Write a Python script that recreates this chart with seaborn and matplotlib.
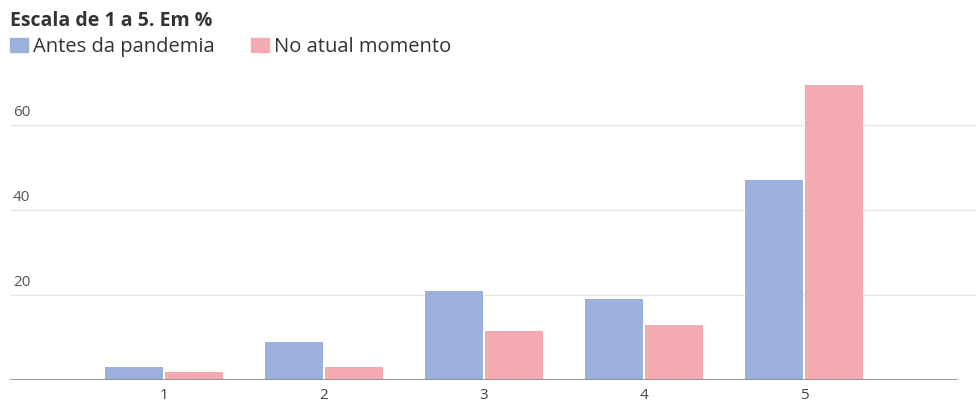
import matplotlib
matplotlib.use("Agg")
import matplotlib.pyplot as plt
import matplotlib.transforms as mtransforms
import seaborn as sns
import pandas as pd

categorias = ["1", "2", "3", "4", "5"]
antes = [3, 9, 21, 19, 47]
atual = [2, 3, 11.5, 13, 69.5]
series = ["Antes da pandemia", "No atual momento"]
yticks = [20, 40, 60]
titulo = "Escala de 1 a 5. Em %"

blue = "#9bb1dc"
pink = "#f4aab3"

df = pd.DataFrame({
    "escala": categorias * 2,
    "valor": antes + atual,
    "periodo": [series[0]] * len(categorias) + [series[1]] * len(categorias),
})

sns.set_theme(style="white")
plt.rcParams["font.family"] = ["Open Sans", "DejaVu Sans"]

fig = plt.figure(figsize=(9.76, 4.05), dpi=100)
ax = fig.add_axes([10 / 976, 25 / 405, 966 / 976, 310 / 405])

sns.barplot(data=df, x="escala", y="valor", hue="periodo", order=categorias,
            hue_order=series, palette=[blue, pink], saturation=1,
            width=0.75, gap=0.035, linewidth=0, ax=ax, legend=False)

ax.set_xlim((10 - 164) / 160, (976 - 164) / 160)
ax.set_ylim(0, 310 / 4.25)
ax.set_xlabel("")
ax.set_ylabel("")
for s in ax.spines.values():
    s.set_visible(False)

ax.set_yticks(yticks)
ax.set_yticklabels([])
ax.tick_params(axis="y", length=0)
ax.grid(axis="y", color="#e6e6e6", linewidth=1)
ax.set_axisbelow(True)
ax.axhline(0, xmin=0, xmax=(957 - 10) / 966, color="#8c8c8c", linewidth=1.2, zorder=3)

trans = mtransforms.offset_copy(ax.get_yaxis_transform(), fig=fig, x=3, y=5, units="dots")
for v in yticks:
    ax.text(0.0, v, str(v), transform=trans, ha="left", va="bottom",
            fontsize=11, color="#555555")

ax.tick_params(axis="x", length=0, pad=6, labelsize=11, labelcolor="#444444")

fig.text(10 / 976, 1 - 11 / 405, titulo, ha="left", va="top", fontsize=14,
         fontweight="bold", color="#333333")

handles = [plt.Rectangle((0, 0), 1, 1, color=blue), plt.Rectangle((0, 0), 1, 1, color=pink)]
fig.legend(handles, series, loc="upper left", bbox_to_anchor=(10 / 976, 1 - 37 / 405),
           ncol=2, frameon=False, fontsize=14.5, handlelength=0.9, handleheight=0.75,
           handletextpad=0.25, columnspacing=1.8, labelcolor="#333333", borderpad=0,
           borderaxespad=0)

fig.savefig("out.png", dpi=100, facecolor="white")
